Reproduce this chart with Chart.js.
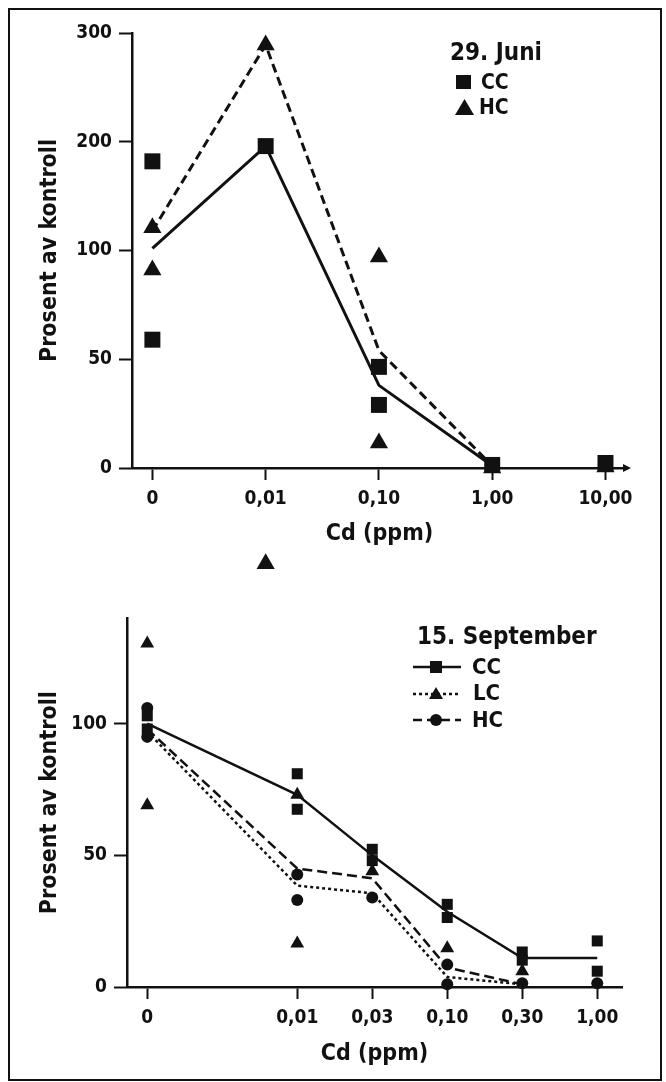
<!DOCTYPE html>
<html>
<head>
<meta charset="utf-8">
<script src="https://cdn.jsdelivr.net/npm/chart.js@4.4.1/dist/chart.umd.min.js"></script>
<style>
html, body { margin: 0; padding: 0; background: #fff; }
#page { position: relative; width: 666px; height: 1082px; overflow: hidden;
  font-family: 'DejaVu Sans Condensed', 'DejaVu Sans', sans-serif; font-weight: bold; color: #111; }
#frame { position: absolute; left: 8px; top: 8px; width: 650px; height: 1069px; border: 2px solid #111; }
canvas { position: absolute; left: 0; }
#juneChart { top: 0; }
#sepChart { top: 600px; }
.lg { position: absolute; white-space: nowrap; line-height: 1; }
.sym { position: absolute; }
</style>
</head>
<body>
<div id="page">
  <div id="frame"></div>
  <canvas id="juneChart" width="666" height="600"></canvas>
  <canvas id="sepChart" width="666" height="482"></canvas>

  <!-- legend, 29. Juni -->
  <div class="lg" style="left:450px; top:40px; font-size:24px;">29. Juni</div>
  <svg class="sym" style="left:456px; top:75px" width="16" height="15"><rect x="0" y="0" width="15" height="14" fill="#111"/></svg>
  <div class="lg" style="left:481px; top:72px; font-size:21px;">CC</div>
  <svg class="sym" style="left:455px; top:99px" width="19" height="17"><polygon points="0,16 9.5,0 19,16" fill="#111"/></svg>
  <div class="lg" style="left:479px; top:97px; font-size:21px;">HC</div>

  <!-- legend, 15. September -->
  <div class="lg" style="left:417px; top:624px; font-size:24px;">15. September</div>
  <svg class="sym" style="left:411px; top:659px" width="52" height="16">
    <line x1="2" y1="8" x2="50" y2="8" stroke="#111" stroke-width="2.5"/>
    <rect x="19" y="2" width="12" height="12" fill="#111"/></svg>
  <div class="lg" style="left:472px; top:656px; font-size:22px;">CC</div>
  <svg class="sym" style="left:411px; top:685px" width="52" height="16">
    <line x1="2" y1="9" x2="50" y2="9" stroke="#111" stroke-width="2.5" stroke-dasharray="3,3"/>
    <polygon points="18,14 25,2 32,14" fill="#111"/></svg>
  <div class="lg" style="left:473px; top:682px; font-size:22px;">LC</div>
  <svg class="sym" style="left:411px; top:712px" width="52" height="16">
    <line x1="2" y1="8" x2="50" y2="8" stroke="#111" stroke-width="2.5" stroke-dasharray="9,5"/>
    <circle cx="25" cy="8" r="6" fill="#111"/></svg>
  <div class="lg" style="left:472px; top:709px; font-size:22px;">HC</div>
</div>

<script>
// 29. Juni: x categories sit at equal steps, y axis is broken (0-100 stretched, 100-300 compressed)
const juneCats = ['0', '0,01', '0,10', '1,00', '10,00'];
const juneCatPos = [0, 1, 2, 3, 4];
const juneYTicks = [0, 50, 100, 200, 300];

// replicate points: category index + value
const juneCCPtsCat = [0, 0, 1, 2, 2, 3, 4];
const juneCCPtsVal = [182, 59, 196, 46.5, 29, 1.4, 2.3];
const juneHCPtsCat = [0, 0, 1, 2, 2, 3, 4];
const juneHCPtsVal = [121, 91, 289, 97, 11.5, 0, 0.5];
// stray triangle printed below the axis
const juneStrayCat = [1];
const juneStrayVal = [-44];

// mean lines (0 .. 1,00)
const juneCCMean = [102, 196, 38, 1];
const juneHCMean = [118, 289, 54, 1];

// 15. September: gap of two steps between 0 and 0,01
const sepCats = ['0', '0,01', '0,03', '0,10', '0,30', '1,00'];
const sepCatPos = [0, 2, 3, 4, 5, 6];
const sepYTicks = [0, 50, 100];

const sepCCPtsCat = [0, 0, 1, 1, 2, 2, 3, 3, 4, 4, 5, 5];
const sepCCPtsVal = [103, 98, 81, 67.5, 52.3, 48, 31.4, 26.4, 13.3, 10.2, 17.5, 6];
const sepLCPtsCat = [0, 0, 1, 1, 2, 3, 4];
const sepLCPtsVal = [130.5, 69, 73, 16.5, 44, 14.7, 6];
const sepHCPtsCat = [0, 0, 1, 1, 2, 3, 3, 4, 5];
const sepHCPtsVal = [106, 95, 42.7, 33, 34, 8.5, 1, 1.4, 1.4];

const sepCCMean = [100, 73, 50, 28.6, 11, 11];
const sepLCMean = [97, 38.5, 35.6, 3.8, 1];
const sepHCMean = [98, 45, 41.3, 7.4, 1];

const ink = '#111';
const fam = "'DejaVu Sans Condensed', 'DejaVu Sans', sans-serif";

// broken y axis of the June panel: value -> axis position
function junePos(v) {
    return v <= 100 ? v / 50 : 2 + (v - 100) / 100;
}

function pts(cats, vals, catPos, map) {
    return vals.map((v, i) => ({ x: catPos[cats[i]], y: map ? map(v) : v }));
}
function line(vals, catPos, map) {
    return vals.map((v, i) => ({ x: catPos[i], y: map ? map(v) : v }));
}

function xScale(cats, catPos, min, max, height, titlePad) {
    return {
        type: 'linear', min: min, max: max,
        afterBuildTicks: s => { s.ticks = catPos.map(v => ({ value: v })); },
        afterFit: s => { s.height = height; },
        ticks: {
            callback: (v, i) => cats[i], autoSkip: false, maxRotation: 0,
            color: ink, font: { family: fam, weight: 'bold', size: 19 }, padding: 8
        },
        grid: { drawOnChartArea: false, drawTicks: true, tickLength: 12, tickWidth: 2, tickColor: ink },
        border: { display: true, color: ink, width: 2.5 },
        title: {
            display: true, text: 'Cd (ppm)', color: ink,
            font: { family: fam, weight: 'bold', size: 23 }, padding: { top: 0, bottom: titlePad }
        }
    };
}

function yScale(min, max, width, tickVals, tickLabels) {
    return {
        type: 'linear', min: min, max: max,
        afterBuildTicks: s => { s.ticks = tickVals.map(v => ({ value: v })); },
        afterFit: s => { s.width = width; },
        ticks: {
            callback: (v, i) => tickLabels[i], autoSkip: false,
            color: ink, font: { family: fam, weight: 'bold', size: 19 }, padding: 7
        },
        grid: { drawOnChartArea: false, drawTicks: true, tickLength: 13, tickWidth: 2, tickColor: ink },
        border: { display: true, color: ink, width: 2.5 },
        title: {
            display: true, text: 'Prosent av kontroll', color: ink,
            font: { family: fam, weight: 'bold', size: 23 }, padding: { top: 36, bottom: 0 }
        }
    };
}

function markers(data, style, r) {
    return { type: 'scatter', data: data, showLine: false, pointStyle: style, pointRadius: r,
             pointBackgroundColor: ink, pointBorderColor: ink, pointBorderWidth: 0, clip: false };
}
function meanLine(data, dash, w) {
    return { type: 'line', data: data, showLine: true, borderColor: ink, borderWidth: w,
             borderDash: dash, pointRadius: 0, tension: 0, fill: false };
}

// little arrow head at the end of the June x axis
const axisArrow = {
    id: 'axisArrow',
    afterDraw(chart) {
        const a = chart.chartArea, ctx = chart.ctx;
        ctx.save();
        ctx.fillStyle = ink;
        ctx.beginPath();
        ctx.moveTo(a.right + 4, a.bottom);
        ctx.lineTo(a.right - 4, a.bottom - 4);
        ctx.lineTo(a.right - 4, a.bottom + 4);
        ctx.closePath();
        ctx.fill();
        ctx.restore();
    }
};

// Chart.js skips points outside the chart area, so the stray triangle
// below the axis goes through the scales here
const strayPoint = {
    id: 'strayPoint',
    afterDatasetsDraw(chart) {
        const xs = chart.scales.x, ys = chart.scales.y, ctx = chart.ctx;
        ctx.save();
        ctx.fillStyle = ink;
        juneStrayVal.forEach((v, i) => {
            const px = xs.getPixelForValue(juneCatPos[juneStrayCat[i]]);
            const py = ys.getPixelForValue(junePos(v));
            if (Chart.helpers && Chart.helpers.drawPoint) {
                Chart.helpers.drawPoint(ctx, { pointStyle: 'triangle', radius: 10.5, rotation: 0, borderWidth: 0 }, px, py);
            } else {
                const r = 10.5;
                ctx.beginPath();
                ctx.moveTo(px, py - r);
                ctx.lineTo(px + r * 0.866, py + r / 2);
                ctx.lineTo(px - r * 0.866, py + r / 2);
                ctx.closePath();
                ctx.fill();
            }
        });
        ctx.restore();
    }
};

const common = {
    responsive: false, animation: false,
    plugins: { legend: { display: false }, tooltip: { enabled: false } }
};

new Chart(document.getElementById('juneChart'), {
    type: 'scatter',
    data: {
        datasets: [
            markers(pts(juneCCPtsCat, juneCCPtsVal, juneCatPos, junePos), 'rect', 11.3),
            markers(pts(juneHCPtsCat, juneHCPtsVal, juneCatPos, junePos), 'triangle', 10.5),
            meanLine(line(juneCCMean, juneCatPos, junePos), [], 3),
            meanLine(line(juneHCMean, juneCatPos, junePos), [9, 5], 3)
        ]
    },
    options: Object.assign({}, common, {
        layout: { padding: { top: 33, left: 0, right: 39, bottom: 0 } },
        scales: {
            x: xScale(juneCats, juneCatPos, -0.18, 4.19, 132, 52),
            y: yScale(0, 4, 132, juneYTicks.map(junePos), juneYTicks.map(String))
        }
    }),
    plugins: [axisArrow, strayPoint]
});

new Chart(document.getElementById('sepChart'), {
    type: 'scatter',
    data: {
        datasets: [
            markers(pts(sepCCPtsCat, sepCCPtsVal, sepCatPos), 'rect', 7.8),
            markers(pts(sepLCPtsCat, sepLCPtsVal, sepCatPos), 'triangle', 8),
            markers(pts(sepHCPtsCat, sepHCPtsVal, sepCatPos), 'circle', 6),
            meanLine(line(sepCCMean, sepCatPos), [], 2.5),
            meanLine(line(sepLCMean, sepCatPos), [3, 3], 2.5),
            meanLine(line(sepHCMean, sepCatPos), [10, 5], 2.5)
        ]
    },
    options: Object.assign({}, common, {
        layout: { padding: { top: 10, left: 0, right: 44, bottom: 0 } },
        scales: {
            x: xScale(sepCats, sepCatPos, -0.27, 6.33, 95, 14),
            y: yScale(0, 140, 127, sepYTicks, sepYTicks.map(String))
        }
    })
});
</script>
</body>
</html>
